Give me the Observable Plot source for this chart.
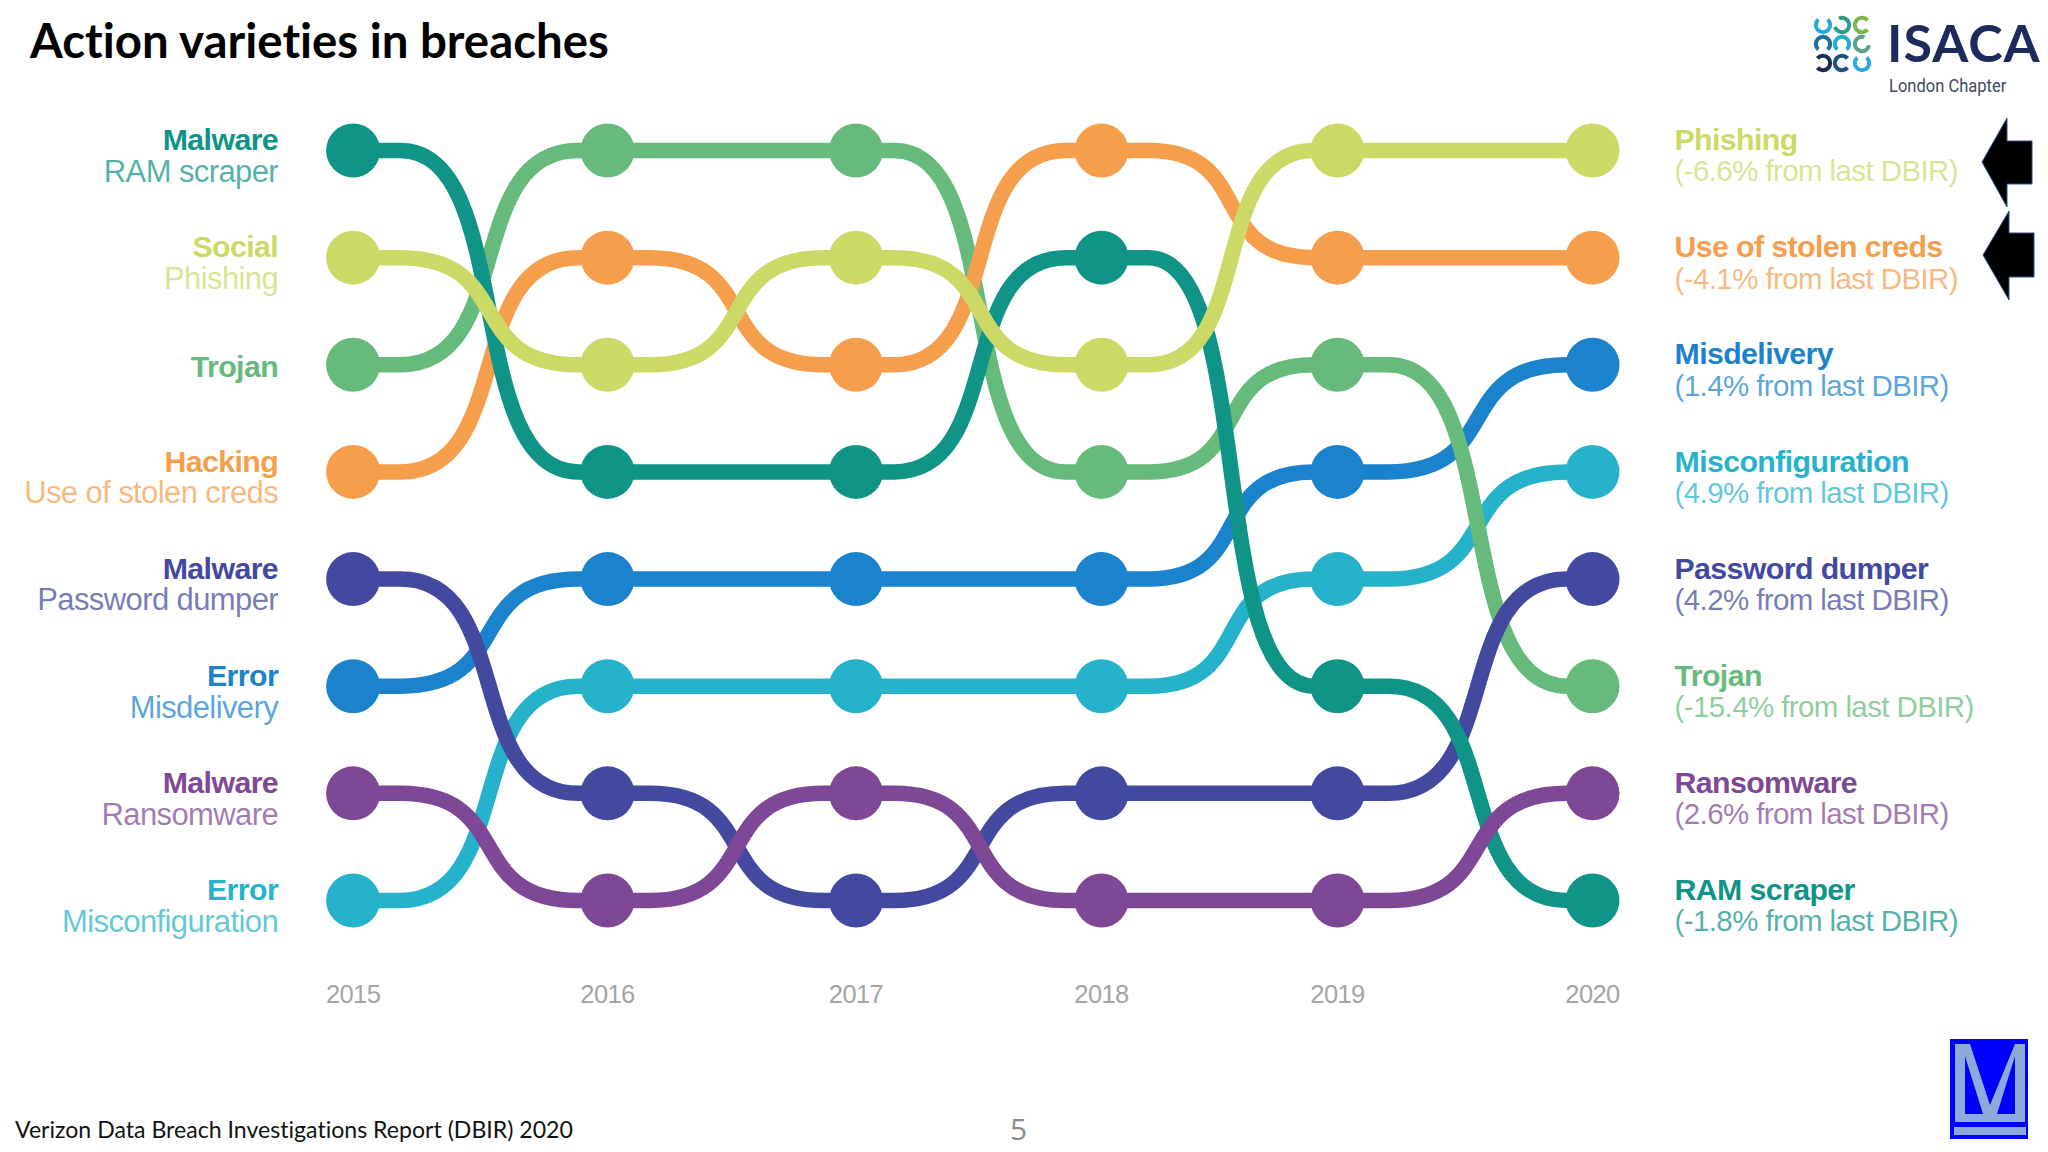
<!DOCTYPE html>
<html>
<head>
<meta charset="utf-8">
<script src="https://cdn.jsdelivr.net/npm/d3@7"></script>
<script src="https://cdn.jsdelivr.net/npm/@observablehq/plot@0.6"></script>
<style>
html,body{margin:0;padding:0;background:#fff;}
#slide{position:relative;width:2048px;height:1152px;overflow:hidden;font-variant-ligatures:none;}
#title{height:80px;margin:0;padding-left:30px;font:700 47.4px/80px Lato,sans-serif;color:#000;box-sizing:border-box;font-variant-ligatures:none;}
#foot{position:relative;height:92px;}
#source{position:absolute;left:15px;top:51px;font:400 23.1px/36px Lato,sans-serif;color:#111;font-variant-ligatures:none;}
#page{position:absolute;left:1010px;top:51px;font:400 30px/36px "Open Sans",sans-serif;color:#8a8a8a;}
#brand{position:absolute;left:1887px;top:14px;font:700 52px/56px Lato,sans-serif;color:#1f2a5c;letter-spacing:1px;}
#chapter{position:absolute;left:1889px;top:73px;font:400 19px/26px Roboto,sans-serif;color:#3f4a60;transform:scaleX(.87);transform-origin:left center;}
.deco{position:absolute;display:block;}
</style>
</head>
<body>
<div id="slide">
  <h1 id="title">Action varieties in breaches</h1>
  <div id="chart"></div>
  <div id="foot">
    <div id="source">Verizon Data Breach Investigations Report (DBIR) 2020</div>
    <div id="page">5</div>
  </div>
  <div id="brand">ISACA</div>
  <div id="chapter">London Chapter</div>
  <svg class="deco" id="logo" style="left:1808px;top:10px" width="70" height="70" viewBox="0 0 70 70"></svg>
  <svg class="deco" style="left:1975px;top:110px" width="65" height="195" viewBox="1975 110 65 195">
    <path d="M1982 162L2007 118V141H2032V184H2007V207Z" fill="#000" stroke="#2f528f" stroke-width="1"/>
    <path d="M1983 255L2009 211V233H2034V277H2009V300Z" fill="#000" stroke="#2f528f" stroke-width="1"/>
  </svg>
  <svg class="deco" style="left:1950px;top:1039px" width="78" height="100" viewBox="0 0 78 100">
    <rect width="78" height="100" fill="#0000ff"/>
    <path d="M5 5H20L40 66L65 5H75V83H5ZM15 17V75H33ZM65 17L47 75H65Z" fill="#8eaadb" fill-rule="evenodd"/>
    <rect x="4" y="88" width="72" height="8" fill="#8eaadb"/>
  </svg>
</div>
<script>
const years = [2015, 2016, 2017, 2018, 2019, 2020];
const yearStops = [352.6, 607, 855.5, 1101, 1337, 1592];

const misdelivery      = [6, 5, 5, 5, 4, 3];
const misconfiguration = [8, 6, 6, 6, 5, 4];
const trojan           = [3, 1, 1, 4, 3, 6];
const passwordDumper   = [5, 7, 8, 7, 7, 5];
const stolenCreds      = [4, 2, 3, 1, 2, 2];
const ramScraper       = [1, 4, 4, 2, 6, 8];
const ransomware       = [7, 8, 7, 8, 8, 7];
const phishing         = [2, 3, 2, 3, 1, 1];

const seriesNames = ["Misdelivery", "Misconfiguration", "Trojan", "Password dumper", "Use of stolen creds", "RAM scraper", "Ransomware", "Phishing"];
const seriesValues = [misdelivery, misconfiguration, trojan, passwordDumper, stolenCreds, ramScraper, ransomware, phishing];
const seriesColors = ["#1b82cc", "#27b2cc", "#66ba7b", "#42499e", "#f59e4c", "#0f9487", "#7f4896", "#cdd967"];

const leftHeads = ["Malware", "Social", "Trojan", "Hacking", "Malware", "Error", "Malware", "Error"];
const leftSubs = ["RAM scraper", "Phishing", "", "Use of stolen creds", "Password dumper", "Misdelivery", "Ransomware", "Misconfiguration"];
const leftSeries = ["RAM scraper", "Phishing", "Trojan", "Use of stolen creds", "Password dumper", "Misdelivery", "Ransomware", "Misconfiguration"];
const rightHeads = ["Phishing", "Use of stolen creds", "Misdelivery", "Misconfiguration", "Password dumper", "Trojan", "Ransomware", "RAM scraper"];
const rightSubs = ["(-6.6% from last DBIR)", "(-4.1% from last DBIR)", "(1.4% from last DBIR)", "(4.9% from last DBIR)", "(4.2% from last DBIR)", "(-15.4% from last DBIR)", "(2.6% from last DBIR)", "(-1.8% from last DBIR)"];

const points = seriesNames.flatMap((series, i) =>
  years.map((year, j) => ({series, year, rank: seriesValues[i][j]})));
const left = leftHeads.map((head, i) => ({head, sub: leftSubs[i], series: leftSeries[i], rank: i + 1, year: years[0]}));
const right = rightHeads.map((head, i) => ({head, sub: rightSubs[i], series: head, rank: i + 1, year: years[years.length - 1]}));

// S curve between neighbouring years: flat shoulders, steep middle, the middle
// sitting slightly right of the halfway point by an amount that varies per interval
const crossShift = [0.035, 0.02, 0.005, 0.05, 0.05];
function sCurve(context) {
  let x0, y0, n = 0;
  const shoulder = 0.15, k = 0.65;
  return {
    lineStart() { n = 0; },
    lineEnd() {},
    point(x, y) {
      x = +x; y = +y;
      if (n === 0) context.moveTo(x, y);
      else {
        const dx = x - x0, s = crossShift[n - 1] * dx;
        const a = x0 + dx * shoulder + s, b = x - dx * shoulder + s, w = b - a;
        context.lineTo(a, y0);
        context.bezierCurveTo(a + w * k, y0, b - w * k, y, b, y);
        context.lineTo(x, y);
      }
      n++;
      x0 = x; y0 = y;
    }
  };
}

const textCommon = {x: "year", y: "rank", fill: "series"};
const chart = Plot.plot({
  width: 2048,
  height: 980,
  marginLeft: 0, marginRight: 0, marginTop: 0, marginBottom: 160,
  style: {fontFamily: "'Liberation Sans', Arial, sans-serif", letterSpacing: "-0.6px", background: "transparent", overflow: "visible"},
  x: {type: "linear", domain: years, range: yearStops},
  y: {domain: [1, 8], range: [70, 820], axis: null},
  color: {domain: seriesNames, range: seriesColors},
  marks: [
    Plot.axisX({ticks: years, tickFormat: d => String(d), tickSize: 0, tickPadding: 84, fontSize: 25.5, fill: "#a4a4a4", label: null}),
    Plot.line(points, {x: "year", y: "rank", z: "series", stroke: "series", strokeWidth: 15.5, curve: sCurve}),
    Plot.dot(points, {x: "year", y: "rank", fill: "series", r: 27}),
    Plot.text(left.filter(d => d.sub), {...textCommon, text: "head", textAnchor: "end", dx: -75, dy: -10, fontSize: 30.3, fontWeight: 700}),
    Plot.text(left.filter(d => !d.sub), {...textCommon, text: "head", textAnchor: "end", dx: -75, dy: 3, fontSize: 30.3, fontWeight: 700}),
    Plot.text(left.filter(d => d.sub), {...textCommon, text: "sub", textAnchor: "end", dx: -75, dy: 21.5, fontSize: 31, fillOpacity: 0.72}),
    Plot.text(right, {...textCommon, text: "head", textAnchor: "start", dx: 82, dy: -10, fontSize: 30.3, fontWeight: 700}),
    Plot.text(right, {...textCommon, text: "sub", textAnchor: "start", dx: 82, dy: 21.5, fontSize: 29.5, fillOpacity: 0.72})
  ]
});
document.getElementById("chart").appendChild(chart);

// ISACA logo glyph: 3x3 open rings
const rings = [
  [15, 15, 270, "#2aa7df"], [34, 15, 205, "#2f9c8a"], [54, 15, 0, "#7ab648"],
  [15, 34, 90, "#1f6f9e"], [34, 34, 90, "#25a9d8"], [54, 34, 330, "#5fa08a"],
  [15, 53, 180, "#1b2a55"], [34, 53, 0, "#1d4f7f"], [54, 53, 270, "#2aa7df"]
];
const logo = d3.select("#logo");
const arc = d3.arc().innerRadius(5.2).outerRadius(9.2);
for (const [cx, cy, open, color] of rings) {
  const mid = (open + 90) * Math.PI / 180;
  logo.append("path")
    .attr("transform", `translate(${cx},${cy})`)
    .attr("d", arc({startAngle: mid + 0.7, endAngle: mid + 2 * Math.PI - 0.7}))
    .attr("fill", color);
}
</script>
</body>
</html>
